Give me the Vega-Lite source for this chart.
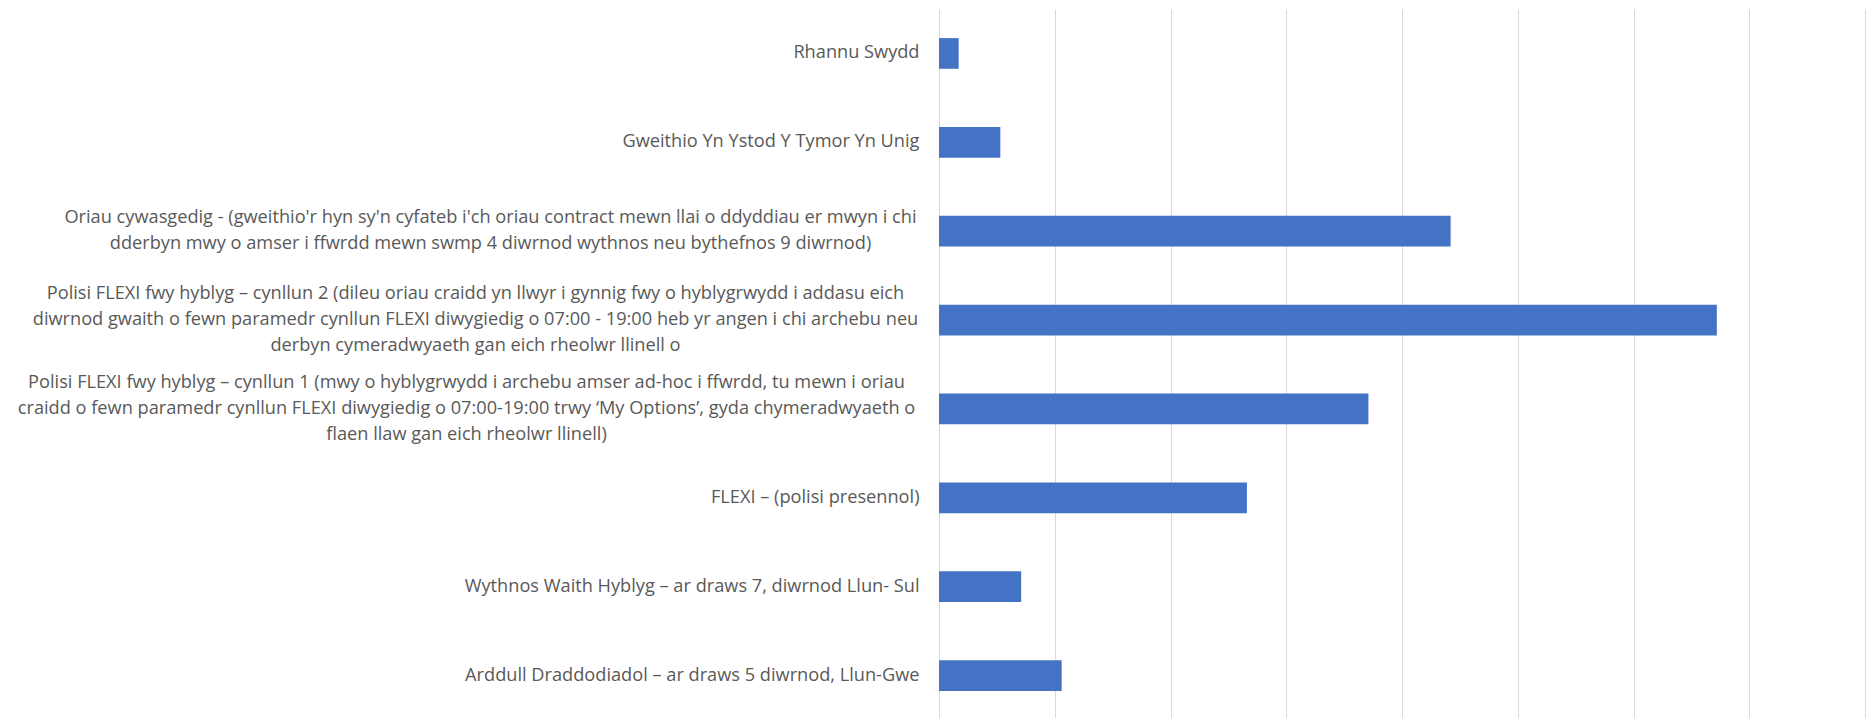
{
  "$schema": "https://vega.github.io/schema/vega-lite/v6.json",
  "autosize": "none",
  "width": 926,
  "height": 711,
  "padding": {"left": 939, "top": 9, "right": 3, "bottom": 0},
  "background": "white",
  "config": {"view": {"stroke": null}},
  "data": {
    "values": [
      {"option": "Rhannu Swydd", "value": 1.7},
      {"option": "Gweithio Yn Ystod Y Tymor Yn Unig", "value": 5.3},
      {"option": "Oriau cywasgedig - (gweithio'r hyn sy'n cyfateb i'ch oriau contract mewn llai o ddyddiau  er mwyn i chi|dderbyn mwy o amser i ffwrdd mewn swmp 4 diwrnod wythnos neu bythefnos 9 diwrnod)", "value": 44.2},
      {"option": "Polisi FLEXI fwy hyblyg – cynllun 2 (dileu oriau craidd yn llwyr i gynnig fwy o hyblygrwydd i addasu eich|diwrnod gwaith o fewn paramedr cynllun FLEXI diwygiedig o 07:00 - 19:00 heb yr angen i chi archebu neu|derbyn cymeradwyaeth gan eich rheolwr llinell o", "value": 67.2},
      {"option": "Polisi FLEXI fwy hyblyg – cynllun 1 (mwy o hyblygrwydd i archebu amser ad-hoc i ffwrdd, tu mewn i oriau|craidd o fewn paramedr cynllun FLEXI diwygiedig o 07:00-19:00 trwy ‘My Options’, gyda chymeradwyaeth o|flaen llaw gan eich rheolwr llinell)", "value": 37.1},
      {"option": "FLEXI – (polisi presennol)", "value": 26.6},
      {"option": "Wythnos Waith Hyblyg – ar draws 7, diwrnod Llun- Sul", "value": 7.1},
      {"option": "Arddull Draddodiadol – ar draws 5 diwrnod, Llun-Gwe", "value": 10.6}
    ]
  },
  "mark": {"type": "bar", "color": "#4472C4"},
  "encoding": {
    "y": {
      "field": "option",
      "type": "nominal",
      "sort": null,
      "scale": {"paddingInner": 0.655, "paddingOuter": 0.3275},
      "axis": {
        "title": null,
        "domain": false,
        "ticks": false,
        "labelPadding": {
          "condition": [
            {"test": "indexof(datum.value, 'Oriau') === 0", "value": 449},
            {"test": "indexof(datum.value, 'cynllun 2') > 0", "value": 464},
            {"test": "indexof(datum.value, 'cynllun 1') > 0", "value": 473}
          ],
          "value": 20
        },
        "labelOffset": {
          "condition": [
            {"test": "indexof(datum.value, 'Oriau') === 0", "value": -13},
            {"test": "indexof(datum.value, '|') >= 0", "value": -26}
          ],
          "value": 0
        },
        "labelFont": "Open Sans",
        "labelFontSize": 18.2,
        "labelColor": "#595959",
        "labelLimit": 0,
        "labelLineHeight": 26,
        "labelAlign": {"condition": {"test": "indexof(datum.value, '|') >= 0", "value": "center"}, "value": "right"},
        "labelExpr": "split(datum.label, '|')"
      }
    },
    "x": {
      "field": "value",
      "type": "quantitative",
      "scale": {"domain": [0, 80], "nice": false},
      "axis": {
        "title": null,
        "labels": false,
        "ticks": false,
        "domain": false,
        "values": [0, 10, 20, 30, 40, 50, 60, 70, 80],
        "grid": true,
        "gridColor": "#D9D9D9",
        "gridWidth": 1
      }
    }
  }
}
